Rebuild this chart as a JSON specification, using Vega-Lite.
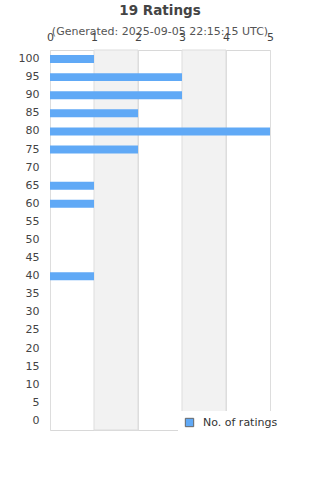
{
  "$schema": "https://vega.github.io/schema/vega-lite/v6.json",
  "width": 220,
  "height": 380,
  "autosize": "none",
  "padding": {"left": 50, "top": 50, "right": 50, "bottom": 50},
  "background": "white",
  "title": {
    "text": "19 Ratings",
    "subtitle": "(Generated: 2025-09-05 22:15:15 UTC)",
    "font": "DejaVu Sans",
    "fontSize": 13.5,
    "fontWeight": "bold",
    "color": "#444444",
    "subtitleFont": "DejaVu Sans",
    "subtitleFontSize": 11,
    "subtitleColor": "#555555",
    "subtitlePadding": 8.5,
    "anchor": "middle",
    "offset": -6
  },
  "config": {
    "view": {"stroke": "#d8d8d8", "strokeWidth": 1},
    "font": "DejaVu Sans",
    "axisX": {
      "orient": "top",
      "title": null,
      "ticks": false,
      "domain": false,
      "grid": true,
      "gridColor": "#dddddd",
      "labelPadding": 8,
      "labelFontSize": 11,
      "labelColor": "#444444",
      "labelFont": "DejaVu Sans",
      "labelFlush": false
    }
  },
  "datasets": {
    "bands": [{"from": 1, "to": 2}, {"from": 3, "to": 4}],
    "ratings": [
      {"rating": 100, "count": 1},
      {"rating": 95, "count": 3},
      {"rating": 90, "count": 3},
      {"rating": 85, "count": 2},
      {"rating": 80, "count": 5},
      {"rating": 75, "count": 2},
      {"rating": 70, "count": 0},
      {"rating": 65, "count": 1},
      {"rating": 60, "count": 1},
      {"rating": 55, "count": 0},
      {"rating": 50, "count": 0},
      {"rating": 45, "count": 0},
      {"rating": 40, "count": 1},
      {"rating": 35, "count": 0},
      {"rating": 30, "count": 0},
      {"rating": 25, "count": 0},
      {"rating": 20, "count": 0},
      {"rating": 15, "count": 0},
      {"rating": 10, "count": 0},
      {"rating": 5, "count": 0},
      {"rating": 0, "count": 0}
    ]
  },
  "layer": [
    {
      "data": {"name": "bands"},
      "mark": {"type": "rect", "color": "#f2f2f2", "stroke": "#dddddd", "strokeWidth": 1},
      "encoding": {
        "x": {"field": "from", "type": "quantitative", "scale": {"domain": [0, 5], "nice": false}, "axis": {"orient": "top", "title": null, "values": [0, 1, 2, 3, 4, 5]}},
        "x2": {"field": "to"}
      }
    },
    {
      "data": {"name": "ratings"},
      "mark": {"type": "bar"},
      "encoding": {
        "y": {
          "field": "rating",
          "type": "ordinal",
          "sort": "descending",
          "scale": {"paddingInner": 0.56, "paddingOuter": 0.28},
          "axis": {
            "title": null,
            "ticks": false,
            "domain": false,
            "labelPadding": 11,
            "labelFontSize": 11,
            "labelColor": "#444444",
            "labelFont": "DejaVu Sans"
          }
        },
        "x": {
          "field": "count",
          "type": "quantitative",
          "scale": {"domain": [0, 5], "nice": false},
          "axis": {"orient": "top", "title": null, "values": [0, 1, 2, 3, 4, 5]}
        },
        "color": {
          "datum": "No. of ratings",
          "type": "nominal",
          "scale": {"range": ["#60a9f6"]},
          "legend": {
            "title": null,
            "orient": "none",
            "legendX": 128,
            "legendY": 361,
            "fillColor": "white",
            "padding": 6,
            "symbolType": "square",
            "symbolSize": 70,
            "symbolStrokeColor": "#666666",
            "symbolStrokeWidth": 1,
            "labelFontSize": 11,
            "labelColor": "#333333",
            "labelFont": "DejaVu Sans",
            "labelOffset": 8
          }
        }
      }
    }
  ]
}
